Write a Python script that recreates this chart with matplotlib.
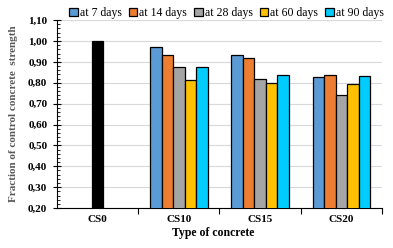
import numpy as np
import matplotlib
matplotlib.use("Agg")
import matplotlib.pyplot as plt
from matplotlib.ticker import FuncFormatter, MultipleLocator

plt.rcParams['font.family'] = ['Liberation Serif', 'DejaVu Serif']

categories = ["CS0", "CS10", "CS15", "CS20"]
control = [1.00]
series_names = ["at 7 days", "at 14 days", "at 28 days", "at 60 days", "at 90 days"]
day7 = [0.970, 0.932, 0.827]
day14 = [0.932, 0.917, 0.836]
day28 = [0.875, 0.817, 0.741]
day60 = [0.814, 0.800, 0.794]
day90 = [0.875, 0.836, 0.832]
colors = ["#5B9BD5", "#ED7D31", "#A5A5A5", "#FFC000", "#00CCFF"]

fig = plt.figure(figsize=(3.93, 2.48), dpi=100)
ax = fig.add_axes([0.145, 0.161, 0.827, 0.758])

w = 0.142
ax.bar([0], control, w, color="black", edgecolor="black", linewidth=0.9, zorder=3)
x = np.arange(1, 4)
for i, (vals, name) in enumerate(zip([day7, day14, day28, day60, day90], series_names)):
    ax.bar(x + (i - 2) * w, vals, w, color=colors[i], edgecolor="black",
           linewidth=0.9, label=name, zorder=3)

ax.set_ylim(0.20, 1.10)
ax.set_xlim(-0.5, 3.5)
ax.set_yticks(np.arange(0.2, 1.101, 0.1))
ax.yaxis.set_minor_locator(MultipleLocator(0.02))
ax.yaxis.set_major_formatter(FuncFormatter(lambda v, p: f"{v:.2f}".replace(".", ",")))
ax.set_xticks(range(4))
ax.set_xticklabels(categories)
ax.set_xticks([0.5, 1.5, 2.5, 3.5], minor=True)
ax.tick_params(axis="x", which="major", length=0, pad=5)
ax.tick_params(axis="x", which="minor", length=4, direction="out", width=0.8)
ax.tick_params(axis="y", which="major", length=6, direction="inout", width=0.8, pad=4)
ax.tick_params(axis="y", which="minor", length=2, direction="in", width=0.6)
for lab in ax.get_xticklabels() + ax.get_yticklabels():
    lab.set_fontweight("bold")
    lab.set_fontsize(8)

ax.grid(axis="y", which="major", color="#D9D9D9", linewidth=0.8, zorder=0)
ax.set_axisbelow(True)
for s in ["top", "right"]:
    ax.spines[s].set_visible(False)
ax.spines["left"].set_linewidth(0.8)
ax.spines["bottom"].set_linewidth(0.8)

ax.set_ylabel("Fraction of control concrete  strength", fontsize=8, fontweight="bold",
              color="#595959", labelpad=7)
ax.set_xlabel("Type of concrete", fontsize=8.5, fontweight="bold", labelpad=1)
ax.xaxis.set_label_coords(0.48, -0.1)

fig.legend(loc="upper right", bbox_to_anchor=(0.995, 1.0), ncol=5, frameon=False,
           fontsize=8.5, handlelength=0.7, handleheight=0.7, handletextpad=0.2,
           columnspacing=0.6, borderaxespad=0.2)

fig.savefig("out.png", dpi=100)
